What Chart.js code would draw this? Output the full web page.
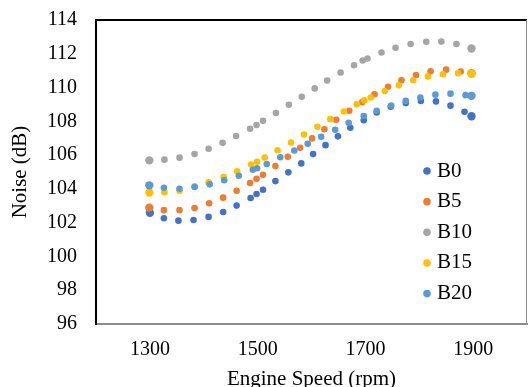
<!DOCTYPE html>
<html>
<head>
<meta charset="utf-8">
<script src="https://cdn.jsdelivr.net/npm/chart.js@4/dist/chart.umd.min.js"></script>
<style>
html,body{margin:0;padding:0;background:#fff;}
#wrap{width:528px;height:387px;}
</style>
</head>
<body>
<div id="wrap"><canvas id="c" width="528" height="387"></canvas></div>
<script>
const seriesNames = ['B0', 'B5', 'B10', 'B15', 'B20'];
const seriesColors = ['#4472C4', '#ED7D31', '#A5A5A5', '#FFC000', '#5B9BD5'];

const rpmB0 = [1300,1326,1353,1381,1409,1436,1461,1487,1498,1510,1533,1557,1581,1603,1626,1649,1672,1697,1721,1747,1775,1803,1831,1858,1884,1897];
const dbB0  = [102.58,102.26,102.12,102.16,102.34,102.63,103.01,103.46,103.70,103.95,104.46,104.98,105.51,106.06,106.59,107.11,107.62,108.07,108.52,108.87,109.08,109.20,109.18,108.93,108.57,108.30];

const rpmB5 = [1299,1326,1355,1383,1410,1436,1461,1486,1498,1510,1533,1556,1579,1601,1624,1646,1670,1694,1717,1742,1767,1794,1821,1850,1877,1897];
const dbB5  = [102.89,102.74,102.74,102.87,103.15,103.48,103.89,104.35,104.60,104.83,105.35,105.90,106.43,106.99,107.53,108.09,108.62,109.13,109.60,110.05,110.43,110.74,110.96,111.06,110.95,110.85];

const rpmB10 = [1299,1327,1355,1383,1409,1435,1460,1486,1498,1510,1534,1558,1582,1606,1629,1654,1679,1695,1704,1730,1756,1784,1813,1841,1869,1897];
const dbB10  = [105.69,105.73,105.85,106.06,106.38,106.73,107.13,107.56,107.78,108.03,108.49,108.98,109.46,109.95,110.42,110.89,111.32,111.60,111.72,112.08,112.36,112.58,112.71,112.72,112.58,112.31];

const rpmB15 = [1299,1327,1355,1383,1409,1437,1462,1488,1499,1513,1537,1562,1586,1611,1635,1660,1684,1698,1710,1736,1762,1789,1816,1844,1872,1897];
const dbB15  = [103.78,103.80,103.89,104.15,104.39,104.70,105.04,105.44,105.61,105.86,106.29,106.75,107.22,107.68,108.13,108.58,109.01,109.24,109.41,109.80,110.14,110.43,110.66,110.79,110.84,110.82];

const rpmB20 = [1299,1326,1355,1383,1411,1438,1465,1491,1499,1517,1542,1568,1593,1618,1644,1669,1697,1721,1748,1775,1802,1830,1858,1886,1897];
const dbB20  = [104.21,104.07,104.01,104.11,104.27,104.51,104.78,105.13,105.22,105.47,105.87,106.27,106.67,107.09,107.50,107.91,108.32,108.62,108.94,109.21,109.41,109.58,109.64,109.55,109.51];

const xTickValues = [1300, 1500, 1700, 1900];
const yTickValues = [96, 98, 100, 102, 104, 106, 108, 110, 112, 114];
const xTitle = 'Engine Speed (rpm)';
const yTitle = 'Noise (dB)';

const rpmList = [rpmB0, rpmB5, rpmB10, rpmB15, rpmB20];
const dbList = [dbB0, dbB5, dbB10, dbB15, dbB20];

const FONT = "'Liberation Serif', 'Times New Roman', serif";

const datasets = seriesNames.map((name, i) => ({
  label: name,
  data: rpmList[i].map((x, j) => ({x: x, y: dbList[i][j]})),
  backgroundColor: seriesColors[i],
  borderColor: seriesColors[i],
  borderWidth: 0,
  pointRadius: (ctx) => (ctx.dataIndex === 0 || ctx.dataIndex === rpmList[i].length - 1) ? 4.2 : 3.3,
  pointHoverRadius: 3.3,
  order: seriesNames.length - i
}));

const framePlugin = {
  id: 'frame',
  afterDatasetsDraw(chart) {
    const {ctx, chartArea: a} = chart;
    ctx.save();
    ctx.strokeStyle = '#000';
    ctx.lineWidth = 2;
    ctx.beginPath();
    ctx.moveTo(a.left - 1, a.top);
    ctx.lineTo(a.right, a.top);
    ctx.stroke();
    ctx.strokeStyle = '#8c8c8c';
    ctx.lineWidth = 1;
    ctx.beginPath();
    ctx.moveTo(a.right - 0.5, a.top);
    ctx.lineTo(a.right - 0.5, a.bottom);
    ctx.stroke();
    ctx.restore();
  },
  afterDraw(chart) {
    const {ctx, chartArea: a} = chart;
    ctx.save();
    ctx.font = '21px ' + FONT;
    ctx.textBaseline = 'middle';
    ctx.textAlign = 'left';
    chart.data.datasets.forEach((ds, i) => {
      const y = a.top + 151 + i * 30.65;
      ctx.fillStyle = ds.backgroundColor;
      ctx.beginPath();
      ctx.arc(a.left + 331, y, 3.8, 0, Math.PI * 2);
      ctx.fill();
      ctx.fillStyle = '#000';
      ctx.fillText(ds.label, a.left + 341, y);
    });
    ctx.restore();
  }
};

new Chart(document.getElementById('c'), {
  type: 'scatter',
  data: { datasets },
  options: {
    responsive: false,
    animation: false,
    events: [],
    layout: { autoPadding: false, padding: { top: 20, right: 1, left: 0, bottom: 0 } },
    plugins: { legend: { display: false }, tooltip: { enabled: false } },
    scales: {
      x: {
        type: 'linear',
        min: 1200, max: 2000,
        afterBuildTicks: (s) => { s.ticks = xTickValues.map(v => ({value: v})); },
        afterFit: (s) => { s.height = 63; s.paddingLeft = 0; s.paddingRight = 0; },
        grid: { display: false, drawTicks: false },
        border: { display: true, color: '#8c8c8c', width: 2 },
        ticks: { color: '#000', font: { family: FONT, size: 20 }, padding: 14, maxRotation: 0, autoSkip: false, callback: (v) => String(v) },
        title: { display: true, text: xTitle, color: '#000', font: { family: FONT, size: 21, lineHeight: 1 }, padding: { top: 0, bottom: -2.5 } }
      },
      y: {
        type: 'linear',
        min: 96, max: 114,
        afterBuildTicks: (s) => { s.ticks = yTickValues.map(v => ({value: v})); },
        afterFit: (s) => { s.width = 96; s.paddingTop = 0; s.paddingBottom = 0; },
        grid: { display: false, drawTicks: false },
        border: { display: true, color: '#000', width: 2 },
        ticks: { color: '#000', font: { family: FONT, size: 20 }, padding: 19, callback: (v) => String(v) },
        title: { display: true, text: yTitle, color: '#000', font: { family: FONT, size: 21, lineHeight: 1 }, padding: { top: 9.5, bottom: 0 } }
      }
    }
  },
  plugins: [framePlugin]
});
</script>
</body>
</html>
